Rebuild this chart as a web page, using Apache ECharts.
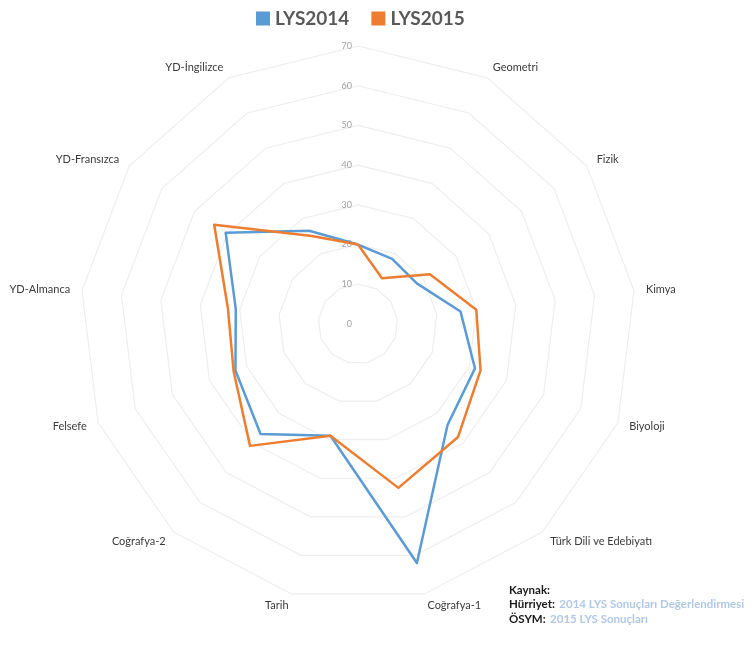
<!DOCTYPE html>
<html>
<head>
<meta charset="utf-8">
<script src="https://cdn.jsdelivr.net/npm/echarts@6/dist/echarts.min.js"></script>
<style>
  html, body { margin: 0; padding: 0; background: #fff; }
  #main { width: 753px; height: 655px; }
</style>
</head>
<body>
<div id="main"></div>
<script>
// categories clockwise from the top axis (top axis has no label)
var categories = ['', 'Geometri', 'Fizik', 'Kimya', 'Biyoloji', 'Türk Dili ve Edebiyatı',
    'Coğrafya-1', 'Tarih', 'Coğrafya-2', 'Felsefe', 'YD-Almanca', 'YD-Fransızca', 'YD-İngilizce'];
var lys2014 = [20, 18.5, 18, 26, 31.5, 34, 62, 29, 37, 33, 31, 40.5, 26.5];
var lys2015 = [20, 13, 22, 30, 33, 38, 42.5, 29, 41, 33.5, 33, 44, 25];
var seriesNames = ['LYS2014', 'LYS2015'];
var axisMax = 70;

// echarts lays radar indicators counter-clockwise, so flip everything after the first
function cw(arr) {
    return [arr[0]].concat(arr.slice(1).reverse());
}

var font = 'Lato, "Noto Sans", sans-serif';

var indicator = cw(categories).map(function (name, i) {
    var ind = { name: name, min: 0, max: axisMax };
    if (i === 0) {
        ind.axisLabel = { show: true };
    }
    return ind;
});

var myChart = echarts.init(document.getElementById('main'));

var option = {
    animation: false,
    color: ['#5B9BD5', '#ED7D31'],
    textStyle: { fontFamily: font },
    title: {
        left: 504,
        top: 578,
        text: '{b|Kaynak:}\n{b|Hürriyet:} {l|2014 LYS Sonuçları Değerlendirmesi}\n{b|ÖSYM:} {l|2015 LYS Sonuçları}',
        textStyle: {
            fontFamily: font,
            lineHeight: 14.5,
            rich: {
                b: { fontFamily: font, fontWeight: 'bold', fontSize: 11.5, color: '#1a1a1a', lineHeight: 14.5 },
                l: { fontFamily: font, fontSize: 11.5, color: '#b0c8e8', lineHeight: 14.5 }
            }
        }
    },
    legend: {
        data: seriesNames,
        left: 251,
        top: 4,
        icon: 'rect',
        itemWidth: 14,
        itemHeight: 14,
        itemGap: 22,
        textStyle: { fontFamily: font, fontSize: 19, fontWeight: 'bold', color: '#595959' }
    },
    radar: {
        center: [358, 324],
        radius: 278,
        startAngle: 90,
        splitNumber: 7,
        shape: 'polygon',
        indicator: indicator,
        axisName: { color: '#3a3a3a', fontSize: 11, fontFamily: font },
        nameGap: 12,
        axisLine: { show: false },
        axisTick: { show: false },
        axisLabel: { show: false, color: '#a0a0a0', fontSize: 9, fontFamily: font, margin: 6 },
        splitLine: { lineStyle: { color: '#eeeeee', width: 1.2 } },
        splitArea: { show: false }
    },
    series: [{
        type: 'radar',
        symbol: 'none',
        lineStyle: { width: 2.5 },
        data: [
            { name: seriesNames[0], value: cw(lys2014), lineStyle: { color: '#5B9BD5', width: 2.5 } },
            { name: seriesNames[1], value: cw(lys2015), lineStyle: { color: '#ED7D31', width: 2.5 } }
        ]
    }]
};

myChart.setOption(option);
</script>
</body>
</html>
